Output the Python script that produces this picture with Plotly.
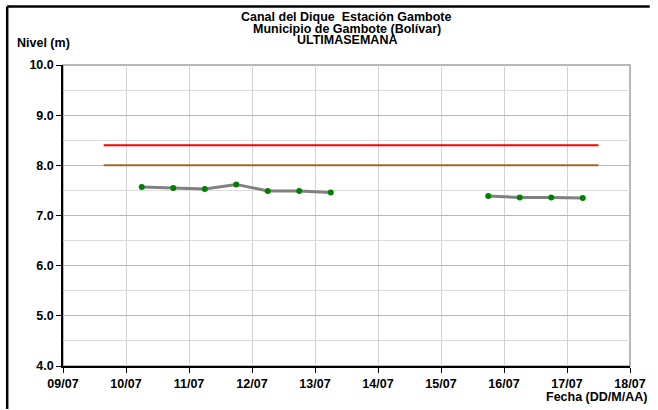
import plotly.graph_objects as go

# Data
dates_a = ["2013-07-10 06:00", "2013-07-10 18:00", "2013-07-11 06:00", "2013-07-11 18:00",
           "2013-07-12 06:00", "2013-07-12 18:00", "2013-07-13 06:00"]
levels_a = [7.57, 7.55, 7.53, 7.62, 7.49, 7.49, 7.46]
dates_b = ["2013-07-15 18:00", "2013-07-16 06:00", "2013-07-16 18:00", "2013-07-17 06:00"]
levels_b = [7.39, 7.36, 7.36, 7.35]
ref_dates = ["2013-07-09 15:30", "2013-07-17 12:00"]
red_level = [8.4, 8.4]
brown_level = [8.0, 8.0]
tick_vals = ["2013-07-%02d" % d for d in range(9, 19)]
tick_text = ["%02d/07" % d for d in range(9, 19)]

FONT = "Liberation Sans"
W, H = 658, 410
L, R, T, B = 63, 21, 65, 44
PW, PH = W - L - R, H - T - B


def px(x):
    return (x - L) / PW


def py(y):
    return (H - B - y) / PH


fig = go.Figure()

fig.add_trace(go.Scatter(x=ref_dates, y=red_level, mode="lines",
                         line=dict(color="#ff0000", width=2), showlegend=False))
fig.add_trace(go.Scatter(x=ref_dates, y=brown_level, mode="lines",
                         line=dict(color="#a0692e", width=2), showlegend=False))
for xs, ys in [(dates_a, levels_a), (dates_b, levels_b)]:
    fig.add_trace(go.Scatter(x=xs, y=ys, mode="lines+markers",
                             line=dict(color="#808080", width=3),
                             marker=dict(color="#008000", size=6),
                             showlegend=False))

fig.update_layout(
    width=W, height=H,
    margin=dict(l=L, r=R, t=T, b=B),
    paper_bgcolor="white", plot_bgcolor="white",
    font=dict(family=FONT, size=12, color="black"),
)
fig.update_xaxes(
    type="date", range=["2013-07-09", "2013-07-18"],
    tickvals=tick_vals, ticktext=tick_text,
    tickfont=dict(family=FONT, size=12.5, color="black", weight="bold"),
    showgrid=True, gridcolor="#d4d4d4", gridwidth=1,
    showline=True, linecolor="black", linewidth=1.5,
    ticks="outside", ticklen=5, tickcolor="black",
    zeroline=False,
)
fig.update_yaxes(
    range=[4, 10], dtick=1, tickformat=".1f",
    tickfont=dict(family=FONT, size=12.5, color="black", weight="bold"),
    showgrid=True, gridcolor="#b8b8b8", gridwidth=1,
    minor=dict(dtick=0.5, showgrid=True, gridcolor="#dcdcdc", gridwidth=1, ticks=""),
    showline=True, linecolor="black", linewidth=1.5,
    ticks="outside", ticklen=5, tickcolor="black",
    zeroline=False,
)

# plot area border (gray right/top)
fig.add_shape(type="rect", xref="paper", yref="paper", x0=0, y0=0, x1=1, y1=1,
              line=dict(color="#a0a0a0", width=1.5), layer="below")
# outer black frame: top and left edges only (the rest runs off the picture)
fig.add_shape(type="line", xref="paper", yref="paper",
              x0=px(6.5), x1=px(657), y0=py(6.5), y1=py(6.5),
              line=dict(color="black", width=2.5))
fig.add_shape(type="line", xref="paper", yref="paper",
              x0=px(6.5), x1=px(6.5), y0=py(409), y1=py(6.5),
              line=dict(color="black", width=2.5))

titles = ["Canal del Dique  Estación Gambote", "Municipio de Gambote (Bolívar)", "ULTIMASEMANA"]
ys_px = [17, 29, 40]
for t, ypx in zip(titles, ys_px):
    fig.add_annotation(text="<b>%s</b>" % t, xref="paper", yref="paper",
                       x=0.5, y=py(ypx), xanchor="center", yanchor="middle",
                       showarrow=False, font=dict(family=FONT, size=12.5, color="black"))

fig.add_annotation(text="<b>Nivel (m)</b>", xref="paper", yref="paper",
                   x=px(14), y=py(42.7), xanchor="left", yanchor="middle",
                   showarrow=False, font=dict(family=FONT, size=12.5, color="black"))
fig.add_annotation(text="<b>Fecha (DD/M/AA)</b>", xref="paper", yref="paper",
                   x=px(656), y=py(397), xanchor="right", yanchor="middle",
                   showarrow=False, font=dict(family=FONT, size=12.5, color="black"))

fig.write_html(
    "out.html",
    config={"displayModeBar": False},
    post_script="document.body.style.margin='0px';document.body.style.overflow='hidden';"
                "document.documentElement.style.overflow='hidden';",
)
